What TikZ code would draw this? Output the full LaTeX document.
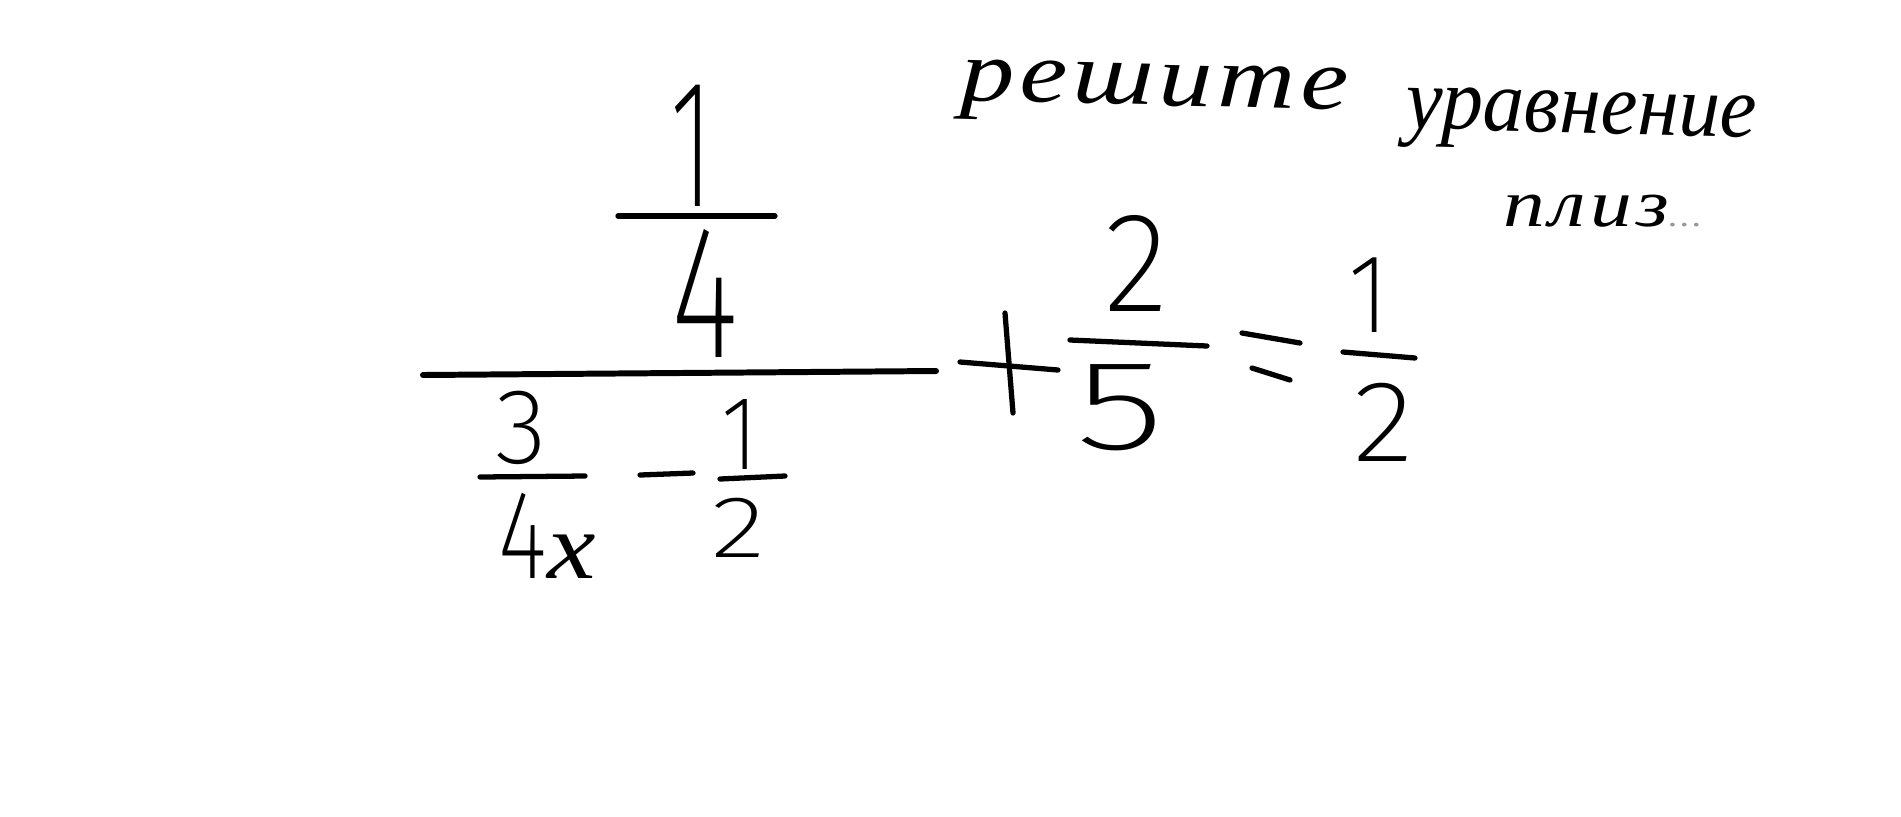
\documentclass[tikz,border=0pt]{standalone}
\usepackage{fontspec}
\usepackage{graphicx}
\newfontfamily\cyr{Liberation Serif}
\newfontfamily\dig{Fira Sans ExtraLight}
\newcommand\hwd[3]{\scalebox{#1}[1]{\dig\fontsize{#2}{#2}\selectfont #3}}
\newcommand\hwt[4]{\scalebox{#1}[1]{\cyr\itshape\fontsize{#2}{#2}\selectfont\addfontfeature{LetterSpace=#3}#4}}
\tikzset{
  dg/.style={inner sep=0pt, anchor=center},
  wd/.style={inner sep=0pt, anchor=base west},
  pen/.style={line width=1.5pt, line cap=round, black},
}
\begin{document}
\begin{tikzpicture}
\useasboundingbox[fill=white] (0,0) rectangle (19.01,-8.16);
% handwritten caption
\node[wd, rotate=-1.5] (w1) at (9.60,-1.00) {\hwt{1.22}{25pt}{5}{решите}};
\node[wd, rotate=-1.5] (w2) at (14.05,-1.28) {\hwt{0.94}{25pt}{0}{уравнение}};
\node[wd] (w3) at (15.03,-2.26) {\hwt{1.25}{19pt}{5}{плиз\textcolor{black!40}{\fontsize{9pt}{9pt}\selectfont...}}};
% big fraction
\node[dg] (n1) at (6.92,-1.46) {\hwd{0.58}{52pt}{1}};
\coordinate (sb1) at (6.18,-2.16);
\coordinate (sb2) at (7.75,-2.16);
\draw[pen] (sb1) -- (sb2);
\node[dg] (n4) at (7.05,-2.93) {\hwd{0.69}{54pt}{4}};
\coordinate (mb1) at (4.23,-3.75);
\coordinate (mb2) at (9.36,-3.71);
\draw[pen, line width=1.7pt] (mb1) -- (mb2);
% denominator 3/4x - 1/2
\node[dg] (n3) at (5.21,-4.28) {\hwd{1.0}{30.5pt}{3}};
\coordinate (b3a) at (4.80,-4.77);
\coordinate (b3b) at (5.85,-4.76);
\draw[pen] (b3a) -- (b3b);
\node[inner sep=0pt, anchor=base west] (n4x) at (4.98,-5.78) {\hwd{0.75}{36pt}{4}\hwt{1.15}{27pt}{0}{x}};
\coordinate (ma) at (6.40,-4.75);
\coordinate (mb) at (6.93,-4.73);
\draw[pen] (ma) -- (mb);
\node[dg] (s1) at (7.40,-4.34) {\hwd{0.87}{30pt}{1}};
\coordinate (b1a) at (7.20,-4.79);
\coordinate (b1b) at (7.85,-4.76);
\draw[pen] (b1a) -- (b1b);
\node[dg] (s2) at (7.39,-5.28) {\hwd{1.3}{25pt}{2}};
% plus
\coordinate (pha) at (9.60,-3.62);
\coordinate (phb) at (10.58,-3.70);
\coordinate (pva) at (10.05,-3.13);
\coordinate (pvb) at (10.13,-4.13);
\draw[pen] (pha) -- (phb);
\draw[pen] (pva) -- (pvb);
% 2/5
\node[dg] (t2) at (11.36,-2.63) {\hwd{0.95}{40.5pt}{2}};
\coordinate (b5a) at (10.70,-3.40);
\coordinate (b5b) at (12.07,-3.46);
\draw[pen] (b5a) -- (b5b);
\node[dg] (t5) at (11.20,-4.08) {\hwd{1.45}{36.4pt}{5}};
% equals
\coordinate (e1a) at (12.42,-3.33);
\coordinate (e1b) at (13.00,-3.43);
\coordinate (e2a) at (12.52,-3.68);
\coordinate (e2b) at (12.90,-3.80);
\draw[pen] (e1a) -- (e1b);
\draw[pen] (e2a) -- (e2b);
% 1/2
\node[dg] (r1) at (13.69,-2.95) {\hwd{0.9}{32pt}{1}};
\coordinate (b2a) at (13.43,-3.52);
\coordinate (b2b) at (14.15,-3.58);
\draw[pen] (b2a) -- (b2b);
\node[dg] (r2) at (13.84,-4.22) {\hwd{1.1}{33pt}{2}};
\end{tikzpicture}
\end{document}
